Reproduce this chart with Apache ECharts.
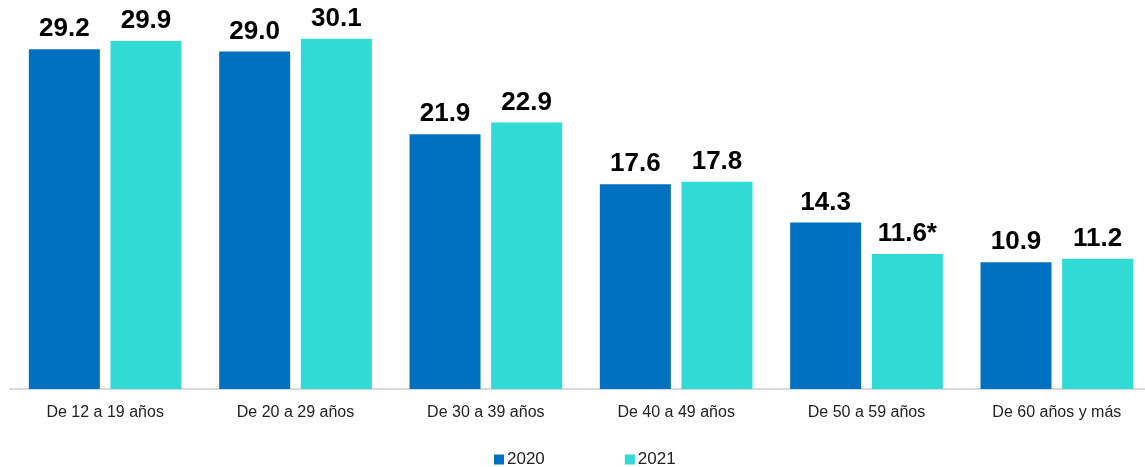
<!DOCTYPE html>
<html>
<head>
<meta charset="utf-8">
<script src="https://cdn.jsdelivr.net/npm/echarts@6/dist/echarts.min.js"></script>
<style>
  html, body { margin: 0; padding: 0; background: #fff; overflow: hidden; }
  #chart { width: 1160px; height: 467px; }
</style>
</head>
<body>
<div id="chart"></div>
<script>
// age groups
const categories = ['De 12 a 19 años', 'De 20 a 29 años', 'De 30 a 39 años', 'De 40 a 49 años', 'De 50 a 59 años', 'De 60 años y más'];
const values2020 = [29.2, 29.0, 21.9, 17.6, 14.3, 10.9];
const values2021 = [29.9, 30.1, 22.9, 17.8, 11.6, 11.2];
// asterisk marks on 2021 labels
const marks2021 = ['', '', '', '', '*', ''];

const chart = echarts.init(document.getElementById('chart'));

const labelStyle = {
  show: true,
  position: 'top',
  distance: 7,
  color: '#000',
  fontSize: 26,
  fontWeight: 'bold',
  fontFamily: 'Liberation Sans, Arial, sans-serif',
  formatter: p => p.value.toFixed(1)
};

const options = {
  animation: false,
  grid: { left: 10, top: 5, width: 1142, bottom: 78 },
  legend: {
    left: 489,
    top: 446,
    itemWidth: 10,
    itemHeight: 10,
    itemGap: 80,
    icon: 'rect',
    textStyle: { fontSize: 17, color: '#222', fontFamily: 'Liberation Sans, Arial, sans-serif', padding: [0, 0, 0, -2] },
    data: ['2020', '2021']
  },
  xAxis: {
    type: 'category',
    data: categories,
    axisLine: { lineStyle: { color: '#d9d9d9', width: 2 } },
    axisTick: { show: false },
    axisLabel: { color: '#222', fontSize: 16, margin: 16, fontFamily: 'Liberation Sans, Arial, sans-serif' }
  },
  yAxis: {
    type: 'value',
    min: 0,
    max: 33,
    show: false
  },
  series: [
    {
      name: '2020',
      type: 'bar',
      data: values2020,
      barWidth: 71,
      barGap: '15%',
      itemStyle: { color: '#0070c0' },
      label: labelStyle
    },
    {
      name: '2021',
      type: 'bar',
      data: values2021,
      barWidth: 71,
      itemStyle: { color: '#30dad5' },
      label: Object.assign({}, labelStyle, {
        formatter: p => p.value.toFixed(1) + marks2021[p.dataIndex]
      })
    }
  ]
};

chart.setOption(options);
</script>
</body>
</html>
